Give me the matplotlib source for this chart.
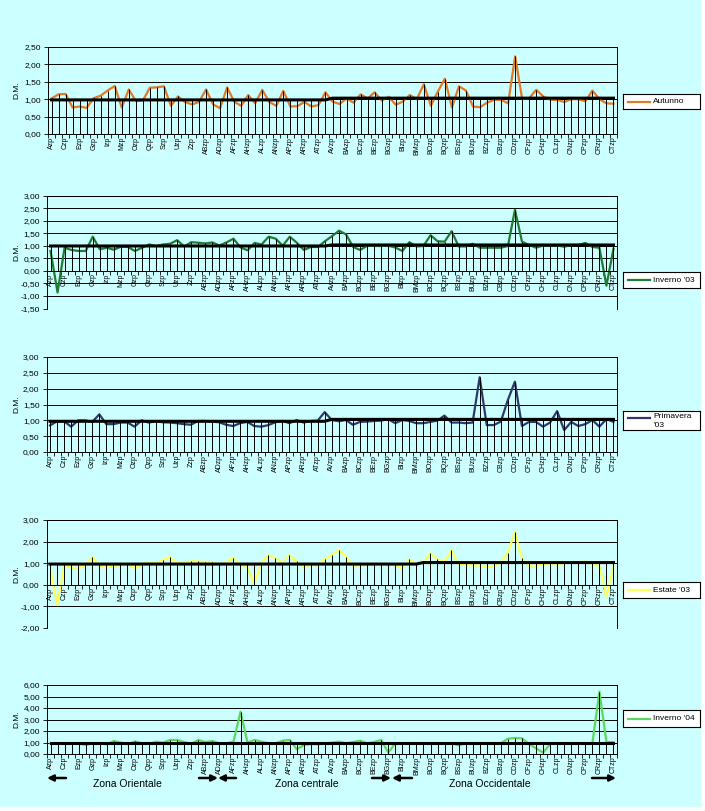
import numpy as np
import matplotlib.pyplot as plt
from matplotlib.patches import Rectangle

plt.rcParams['font.family'] = ['Liberation Sans', 'DejaVu Sans']

W, H = 705, 811
CIANO = '#CCFFFF'

# categorie: alfabeto italiano, poi AA..AZ, BA..BZ, CA..CT
lettere = ["A", "B", "C", "D", "E", "F", "G", "H", "I", "L", "M",
           "N", "O", "P", "Q", "R", "S", "T", "U", "V", "Z"]
categorie = (lettere + ["A" + l for l in lettere] + ["B" + l for l in lettere]
             + ["C" + l for l in lettere[:18]])
etichette = [c + "zp" for c in categorie]

autunno = [1.02, 1.14, 1.15, 0.76, 0.79, 0.75, 1.03, 1.10, 1.25, 1.38,
           0.76, 1.28, 0.95, 0.96, 1.33, 1.34, 1.37, 0.81, 1.08, 0.92,
           0.85, 0.92, 1.28, 0.85, 0.74, 1.34, 0.93, 0.81, 1.12, 0.88,
           1.27, 0.92, 0.81, 1.24, 0.79, 0.80, 0.92, 0.79, 0.83, 1.20,
           0.93, 0.86, 1.02, 0.90, 1.14, 1.02, 1.20, 0.96, 1.07, 0.84,
           0.93, 1.12, 1.00, 1.43, 0.81, 1.22, 1.59, 0.76, 1.37, 1.25,
           0.79, 0.77, 0.90, 0.98, 0.98, 0.88, 2.23, 1.01, 1.03, 1.27,
           1.08, 0.98, 0.98, 0.92, 1.00, 1.00, 0.94, 1.25, 1.00, 0.88,
           0.87]

inverno03 = [0.79, -0.86, 0.92, 0.83, 0.79, 0.79, 1.36, 0.86, 0.92, 0.84,
             0.96, 0.95, 0.79, 0.92, 1.05, 0.99, 1.05, 1.08, 1.22, 0.97,
             1.14, 1.12, 1.09, 1.13, 1.01, 1.13, 1.28, 0.93, 0.82, 1.11,
             1.05, 1.36, 1.28, 1.00, 1.36, 1.12, 0.83, 0.95, 0.95, 1.18,
             1.38, 1.60, 1.45, 0.95, 0.83, 1.00, 0.99, 0.99, 1.00, 0.93,
             0.79, 1.14, 0.97, 0.99, 1.42, 1.18, 1.16, 1.58, 0.97, 0.97,
             1.08, 0.92, 0.92, 0.92, 0.92, 0.99, 2.43, 1.16, 1.03, 0.92,
             1.01, 1.01, 1.01, 0.96, 1.03, 1.03, 1.11, 0.95, 0.92, -0.59,
             0.88]

primavera03 = [0.84, 0.97, 0.97, 0.80, 1.00, 1.00, 0.95, 1.19, 0.88, 0.88,
               0.93, 0.93, 0.80, 1.00, 0.93, 0.97, 0.94, 0.93, 0.91, 0.88,
               0.86, 0.98, 0.98, 0.96, 0.94, 0.86, 0.82, 0.91, 0.95, 0.82,
               0.80, 0.85, 0.94, 0.98, 0.91, 1.01, 0.93, 0.98, 0.99, 1.26,
               1.01, 0.97, 1.01, 0.86, 0.95, 0.96, 0.98, 0.99, 1.04, 0.91,
               1.01, 0.98, 0.91, 0.91, 0.95, 0.99, 1.15, 0.93, 0.93, 0.91,
               0.93, 2.36, 0.85, 0.85, 0.96, 1.64, 2.22, 0.82, 0.95, 0.95,
               0.80, 0.93, 1.29, 0.69, 0.95, 0.82, 0.88, 1.01, 0.80, 1.04,
               0.95]

estate03 = [0.88, -0.94, 0.88, 0.80, 0.77, 0.88, 1.28, 0.88, 0.85, 0.88,
            0.91, 0.95, 0.77, 0.92, 1.03, 0.98, 1.15, 1.28, 1.03, 1.00,
            1.09, 1.08, 1.06, 1.06, 0.91, 1.03, 1.26, 0.95, 0.80, 0.03,
            1.03, 1.37, 1.23, 1.03, 1.37, 1.08, 0.80, 0.91, 0.91, 1.18,
            1.38, 1.62, 1.31, 0.88, 0.91, 0.91, 0.95, 0.91, 0.92, 0.92,
            0.75, 1.18, 0.95, 1.03, 1.46, 1.18, 1.08, 1.60, 0.95, 0.91,
            0.91, 0.88, 0.85, 0.88, 1.03, 1.49, 2.45, 1.23, 0.88, 0.88,
            0.95, 1.00, 0.95, 1.00, 1.06, 1.00, 1.08, 0.95, 0.88, -0.58,
            0.88]

inverno04 = [0.93, 0.93, 0.93, 0.93, 0.93, 0.78, 0.93, 0.93, 0.84, 1.13,
             0.99, 0.84, 1.10, 0.93, 0.87, 1.07, 0.99, 1.22, 1.22, 1.04,
             0.87, 1.22, 1.04, 1.13, 0.93, 0.93, 1.07, 3.68, 0.99, 1.22,
             1.07, 0.93, 0.93, 1.16, 1.22, 0.41, 0.78, 0.87, 0.84, 0.93,
             0.99, 1.07, 0.93, 1.04, 1.16, 0.93, 1.04, 1.22, 0.12, 0.93,
             0.93, 0.93, 0.93, 0.93, 0.93, 0.93, 0.87, 0.93, 0.75, 0.93,
             0.93, 0.93, 0.93, 0.93, 0.93, 1.33, 1.39, 1.36, 0.87, 0.49,
             0.12, 0.87, 0.93, 0.93, 0.93, 0.93, 0.93, 0.93, 5.42, 1.04,
             1.04]

# linea di riferimento (nera)
rif_1 = [0.98] * 40 + [1.03] * 41
rif_2 = [0.99] * 40 + [1.03] * 41
rif_3 = [0.97] * 40 + [1.03] * 41
rif_4 = [0.96] * 53 + [1.03] * 28
rif_5 = [1.00] * 81

# (valori, riferimento, colore, legenda, ymin, ymax, passo, sinistra, alto, basso, legenda y)
pannelli = [
    (autunno, rif_1, '#E07A26', "Autunno", 0, 2.5, 0.5, 48, 47, 134, (94, 109)),
    (inverno03, rif_2, '#1F7A35', "Inverno '03", -1.5, 3, 0.5, 47, 195.5, 308.5, (272, 288)),
    (primavera03, rif_3, '#2B3A6B', "Primavera\n'03", 0, 3, 0.5, 46.5, 357, 452, (411, 430)),
    (estate03, rif_4, '#FFFF5C', "Estate '03", -2, 3, 1, 46.5, 520, 628, (582, 598)),
    (inverno04, rif_5, '#5CD85C', "Inverno '04", 0, 6, 1, 47, 685, 754, (710, 727)),
]

fig = plt.figure(figsize=(W / 100, H / 100), dpi=100)
fig.patch.set_facecolor('white')

bg = fig.add_axes([0, 0, 1, 1], zorder=-10)
bg.set_xlim(0, W)
bg.set_ylim(H, 0)
bg.axis('off')
bg.add_patch(Rectangle((0, 0), 700, 806, color=CIANO, zorder=0))

x = np.arange(len(categorie))
right = 617

for valori, rif, colore, nome, ymin, ymax, passo, left, top, bot, (ly0, ly1) in pannelli:
    ax = fig.add_axes([left / W, 1 - bot / H, (right - left) / W, (bot - top) / H])
    ax.set_facecolor(CIANO)
    ax.set_xlim(-0.5, len(x) - 0.5)
    ax.set_ylim(ymin, ymax)

    ticks = np.round(np.arange(ymin, ymax + passo / 2, passo), 2) + 0.0
    ax.set_yticks(ticks)
    ax.set_yticklabels([f"{t:.2f}".replace(".", ",") for t in ticks], fontsize=6)
    for t in ticks:
        ax.axhline(t, color='black', lw=0.7, zorder=1)

    ax.vlines(x, 0, np.maximum(valori, rif), color='black', lw=0.7, zorder=3)
    ax.plot(x, valori, color=colore, lw=1.6, zorder=2)
    ax.plot(x, rif, color='black', lw=2.2, zorder=4)

    for s in ax.spines.values():
        s.set_linewidth(0.7)
    ax.spines['bottom'].set_position(('data', 0))

    ax.set_xticks(x[::2])
    ax.set_xticklabels(etichette[::2], rotation=90, fontsize=5)
    ax.set_xticks(np.arange(-0.5, len(x)), minor=True)
    ax.tick_params(axis='x', which='major', length=0, pad=2)
    ax.tick_params(axis='x', which='minor', length=3, direction='out', width=0.6)
    ax.tick_params(axis='y', length=3, pad=2, width=0.6)

    bg.text(17, (top + bot) / 2, "D.M.", rotation=90, ha='center', va='center', fontsize=6)

    # legenda
    lax = fig.add_axes([623 / W, 1 - ly1 / H, 77 / W, (ly1 - ly0) / H])
    lax.set_facecolor('white')
    lax.set_xlim(0, 77)
    lax.set_ylim(ly1 - ly0, 0)
    lax.set_xticks([])
    lax.set_yticks([])
    for s in lax.spines.values():
        s.set_linewidth(0.8)
    if "\n" in nome:
        lax.plot([5, 27], [6.5, 6.5], color=colore, lw=1.6)
        lax.text(30, 2, nome, va='top', ha='left', fontsize=6, clip_on=True, linespacing=1.45)
    else:
        mid = (ly1 - ly0) / 2
        lax.plot([5, 27], [mid, mid], color=colore, lw=1.6)
        lax.text(30, mid, nome, va='center', ha='left', fontsize=6)

# frecce e zone sotto l'ultimo grafico
freccia = dict(arrowstyle='-|>', color='black', lw=1.8, mutation_scale=9, shrinkA=0, shrinkB=0)
for x0, x1 in [(66, 47), (199, 218), (236, 218), (372, 391), (412, 392), (592, 616)]:
    bg.annotate('', xy=(x1, 778), xytext=(x0, 778), arrowprops=freccia)

bg.text(127, 784, "Zona Orientale", ha='center', va='center', fontsize=7.5)
bg.text(307, 784, "Zona centrale", ha='center', va='center', fontsize=7.5)
bg.text(490, 784, "Zona Occidentale", ha='center', va='center', fontsize=7.5)

fig.savefig("out.png", dpi=100, facecolor=fig.get_facecolor())
